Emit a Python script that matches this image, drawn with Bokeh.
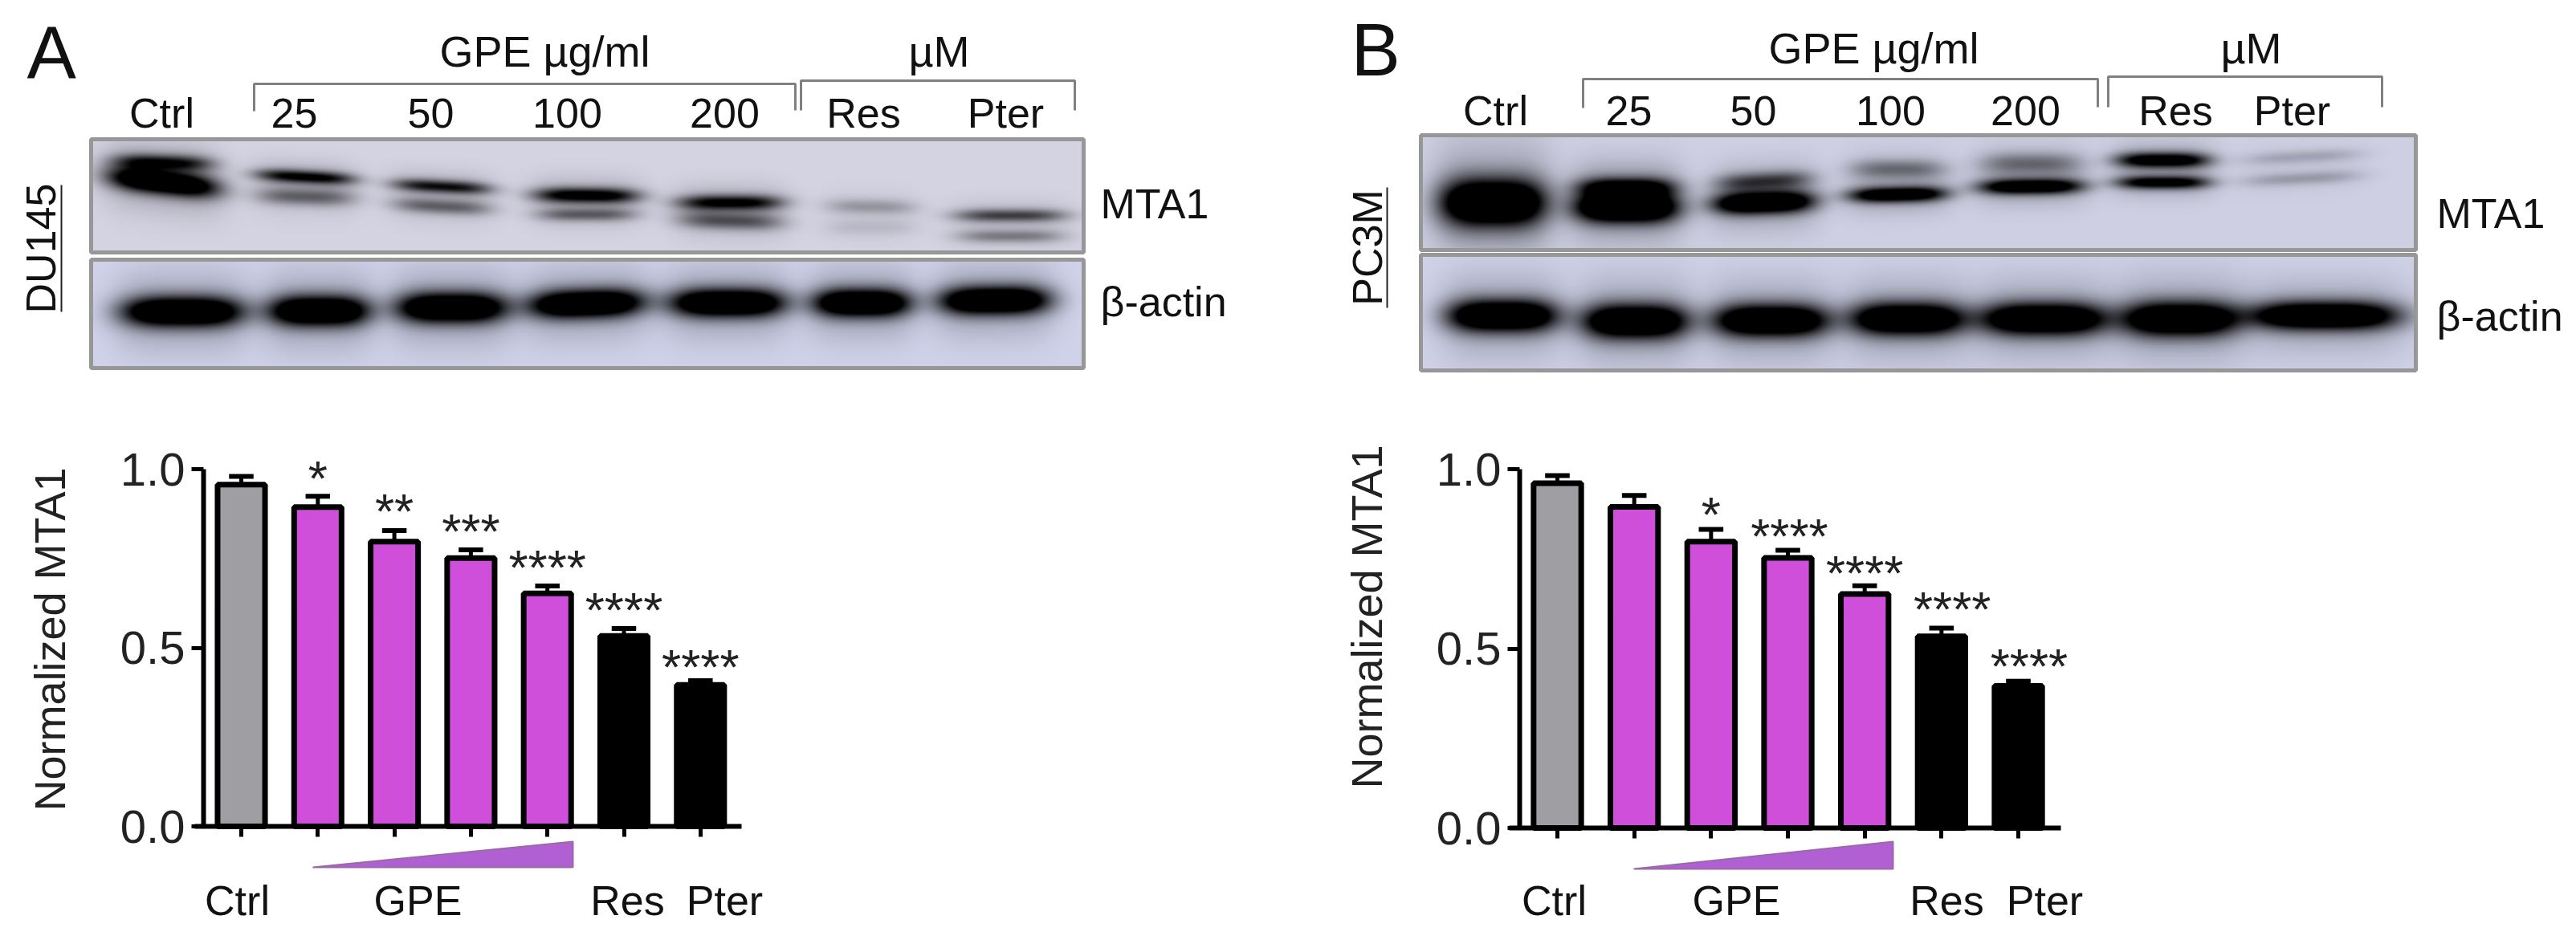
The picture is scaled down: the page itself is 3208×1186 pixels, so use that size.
import numpy as np
from bokeh.plotting import figure
from bokeh.layouts import column, row
from bokeh.models import Range1d, LinearAxis, FixedTicker, NumeralTickFormatter
from bokeh.core.properties import value
from bokeh.embed import file_html
from bokeh.resources import INLINE

FONT = "Liberation Sans"
categories = ["Ctrl", "25", "50", "100", "200", "Res", "Pter"]
a_values = [0.957, 0.894, 0.797, 0.751, 0.652, 0.533, 0.396]
a_err_top = [0.980, 0.924, 0.828, 0.774, 0.673, 0.554, 0.408]
b_values = [0.961, 0.895, 0.798, 0.753, 0.652, 0.534, 0.396]
b_err_top = [0.982, 0.927, 0.832, 0.774, 0.675, 0.557, 0.409]
bar_colors = ["#9f9ea3", "#cf4fdb", "#cf4fdb", "#cf4fdb", "#cf4fdb", "#000000", "#000000"]
y_ticks = [0.0, 0.5, 1.0]
a_stars = [(1, "*", 0.994), (2, "**", 0.901), (3, "***", 0.844), (4, "****", 0.743), (5, "****", 0.625), (6, "****", 0.466)]
b_stars = [(2, "*", 0.892), (3.02, "****", 0.832), (4, "****", 0.730), (5.14, "****", 0.628), (6.14, "****", 0.471)]

# blot bands: lane x, band y, half-width, half-height, darkness, tilt (reference pixels)
a_mta1 = [(203,202,60,7,.75,.03),(203,227,68,11,1.3,.11),(380,220,60,6,.9,.05),(380,245,60,8,.45,.03),
          (550,232,60,6,.8,.05),(550,257,60,7,.45,.05),(730,243,64,7,1.0,.01),(730,267,60,6,.45,.0),
          (909,252,64,7,.9,.0),(909,275,64,8,.5,.03),(1084,257,55,7,.25,.02),(1084,283,55,8,.1,.0),
          (1258,268,68,6,.6,.0),(1258,294,65,6,.35,.0)]
a_actin = [(227,388,75,14,1.4,0),(397,387,62,14,1.4,0),(562,383,68,14,1.4,0),(730,378,71,13,1.4,-.03),
           (906,377,71,13,1.4,0),(1073,377,60,13,1.4,0),(1238,374,68,13,1.4,-.01)]
b_mta1 = [(1859,252,65,22,1.5,0),(2025,258,64,14,1.5,0),(2025,233,60,9,.9,0),(2196,252,62,10,1.4,-.03),
          (2196,225,58,8,.55,-.05),(2363,242,60,7,1.2,-.02),(2363,210,58,9,.4,0),(2529,232,64,7,1.2,-.01),
          (2529,203,62,10,.4,0),(2693,199,57,7,1.1,0),(2693,227,57,6,1.0,0),(2866,195,72,6,.18,-.05),(2866,222,72,6,.22,-.05)]
b_actin = [(1871,393,68,15,1.4,0),(2036,400,65,16,1.4,0),(2205,399,71,15,1.4,0),(2375,397,70,15,1.4,0),
           (2545,397,78,15,1.4,0),(2714,397,70,16,1.4,0),(2894,393,92,13,1.4,0)]


def blot(p, x0, x1, y0, y1, bands, bg):
    xs = np.arange(x0, x1) + .5
    ys = np.arange(y0, y1) + .5
    X, Y = np.meshgrid(xs, ys)
    D = np.zeros_like(X)
    for cx, cy, wx, wy, d, tilt in bands:
        yy = Y - cy - tilt * (X - cx)
        wy = wy * 1.3
        D += d * np.exp(-np.abs((X - cx) / wx) ** 3.2) * np.exp(-(yy / wy) ** 2)
        D += .18 * d * np.exp(-((X - cx) / (1.12 * wx)) ** 4) * np.exp(-(yy / (2.6 * wy)) ** 2)
    T = 1 - np.clip(D, 0, 1)
    img = np.zeros(X.shape, dtype=np.uint32)
    v = img.view(np.uint8).reshape(X.shape + (4,))
    for i in range(3):
        v[..., i] = (bg[i] * T).astype(np.uint8)
    v[..., 3] = 255
    p.image_rgba(image=[img[::-1]], x=x0, y=-y1, dw=x1 - x0, dh=y1 - y0)
    p.quad(left=[x0], right=[x1], top=[-y0], bottom=[-y1], fill_color=None, line_color="#979797", line_width=5)


def label(p, x, y, s, size, align="center", angle=0, color="#111111"):
    p.text(x=[x], y=[y], text=[s], text_font=value(FONT), text_font_size=value(size), text_align=align,
           text_baseline="middle", angle=angle, text_color=color)


top = figure(width=3208, height=510, x_range=Range1d(0, 3208), y_range=Range1d(-510, 0), output_backend="svg",
             toolbar_location=None, min_border=0, outline_line_color=None, x_axis_type=None, y_axis_type=None)
top.grid.visible = False

blot(top, 113, 1349, 173, 314, a_mta1, (213, 212, 227))
blot(top, 113, 1349, 323, 458, a_actin, (208, 211, 234))
blot(top, 1769, 3008, 168, 311, b_mta1, (207, 208, 227))
blot(top, 1769, 3008, 317, 461, b_actin, (208, 210, 232))

GREY = "#808080"
top.line([316, 316, 990, 990], [-138, -104, -104, -137], line_color=GREY, line_width=3)
top.line([997, 997, 1338, 1338], [-137, -100, -100, -137], line_color=GREY, line_width=3)
top.line([1971, 1971, 2612, 2612], [-134, -98, -98, -133], line_color=GREY, line_width=3)
top.line([2625, 2625, 2966, 2966], [-133, -95, -95, -133], line_color=GREY, line_width=3)
top.line([76, 76], [-230, -388], line_color="#222222", line_width=2)
top.line([1727, 1727], [-233, -383], line_color="#222222", line_width=2)

label(top, 33, -65, "A", "92px", "left")
label(top, 1682, -61, "B", "92px", "left")
label(top, 678, -63, "GPE µg/ml", "54px")
label(top, 1169, -63, "µM", "54px")
label(top, 2333, -59, "GPE µg/ml", "54px")
label(top, 2803, -59, "µM", "54px")
for x, s in zip([201, 366, 536, 706, 902, 1075, 1252], categories):
    label(top, x, -140, s, "52px")
for x, s in zip([1862, 2028, 2183, 2354, 2522, 2709, 2854], categories):
    label(top, x, -137, s, "52px")
label(top, 1370, -253, "MTA1", "52px", "left")
label(top, 1370, -375, "β-actin", "52px", "left")
label(top, 3034, -265, "MTA1", "52px", "left")
label(top, 3034, -393, "β-actin", "52px", "left")
label(top, 50, -309, "DU145", "52px", "center", np.pi / 2)
label(top, 1702, -308, "PC3M", "52px", "center", np.pi / 2)


def bars(left, width, x0, dx, y0, y1px, vals, errs, stars, ya_x, ax_l, ax_r, tri, txt_x, ylab_x, ylab_y, star_off):
    unit = y0 - y1px
    fx = lambda px: (px - x0) / dx
    fy = lambda py: (y0 - py) / unit
    p = figure(width=width, height=676, output_backend="svg", toolbar_location=None, min_border=0,
               outline_line_color=None, x_axis_type=None, y_axis_type=None,
               x_range=Range1d(fx(left), fx(left + width)), y_range=Range1d(fy(1186), fy(510)))
    p.grid.visible = False
    xs = list(range(len(vals)))
    p.segment(x0=xs, x1=xs, y0=vals, y1=errs, line_color="#000000", line_width=5)
    p.segment(x0=[i - .16 for i in xs], x1=[i + .16 for i in xs], y0=errs, y1=errs, line_color="#000000", line_width=6)
    p.vbar(x=xs, top=vals, bottom=0, width=.62, fill_color=bar_colors, line_color="#000000", line_width=7)

    ya = LinearAxis(ticker=FixedTicker(ticks=y_ticks), fixed_location=fx(ya_x), bounds=(0, 1),
                    formatter=NumeralTickFormatter(format="0.0"))
    ya.axis_line_width = 6
    ya.major_tick_line_width = 5
    ya.major_tick_out = 15
    ya.major_tick_in = 0
    ya.minor_tick_line_color = None
    ya.major_label_standoff = 8
    ya.major_label_text_font = FONT
    ya.major_label_text_font_size = "58px"
    ya.major_label_text_color = "#222222"
    p.add_layout(ya, "left")

    xa = LinearAxis(ticker=FixedTicker(ticks=xs), fixed_location=0, bounds=(fx(ax_l), fx(ax_r)))
    xa.axis_line_width = 6
    xa.major_tick_line_width = 5
    xa.major_tick_out = 13
    xa.major_tick_in = 0
    xa.minor_tick_line_color = None
    xa.major_label_text_font_size = "0px"
    xa.major_label_text_color = None
    p.add_layout(xa, "below")

    p.patch(x=[fx(tri[0]), fx(tri[1]), fx(tri[1])], y=[fy(tri[3]), fy(tri[2]), fy(tri[3])],
            fill_color="#b060d2", line_color="#9a6aa8", line_width=2)

    for (i, s, v) in stars:
        p.text(x=[i], y=[v + star_off], text=[s], text_font=value(FONT), text_font_size=value("62px"),
               text_align="center", text_baseline="middle", text_color="#222222")
    for s, tx in zip(["Ctrl", "GPE", "Res", "Pter"], txt_x):
        label(p, fx(tx), fy(1121), s, "52px")
    label(p, fx(ylab_x), fy(ylab_y), "Normalized MTA1", "54px", "center", np.pi / 2, "#222222")
    return p


pa = bars(0, 1640, 300, 95.3, 1029, 584, a_values, a_err_top, a_stars, 253, 242, 923, (389, 713, 1048, 1080),
          [295, 520, 781, 902], 61, 796, -0.018)
pb = bars(1640, 1568, 1939, 95.67, 1031, 584, b_values, b_err_top, b_stars, 1892, 1879, 2566, (2034, 2357, 1048, 1082),
          [1935, 2162, 2424, 2546], 1701, 768, -0.018)

page = column(top, row(pa, pb))
open("out.html", "w").write(file_html(page, INLINE))
